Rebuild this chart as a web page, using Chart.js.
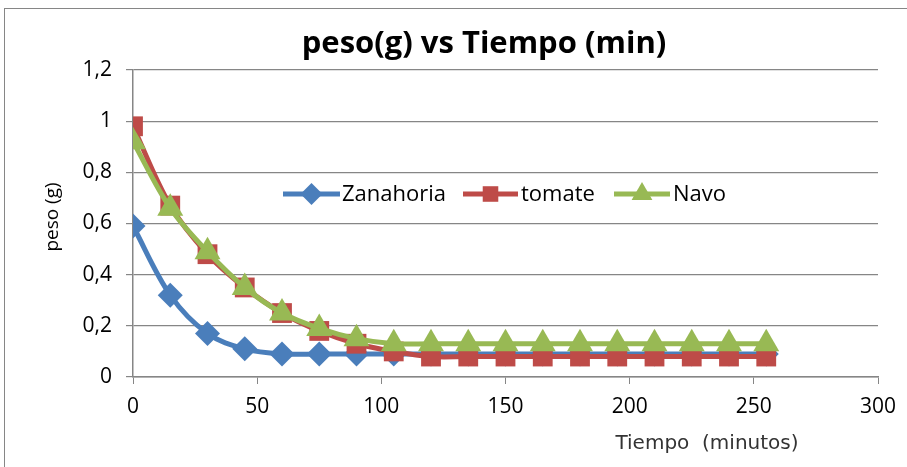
<!DOCTYPE html>
<html><head><meta charset="utf-8">
<script src="https://cdn.jsdelivr.net/npm/chart.js@4"></script>
<style>html,body{margin:0;padding:0;background:#fff}#wrap{width:907px;height:467px;position:relative}</style>
</head><body><div id="wrap"><canvas id="c" width="907" height="467"></canvas></div>
<script>
const times = [0,15,30,45,60,75,90,105,120,135,150,165,180,195,210,225,240,255];
const zanahoria = [0.59,0.32,0.17,0.11,0.09,0.09,0.09,0.09,0.09,0.09,0.09,0.09,0.09,0.09,0.09,0.09,0.09,0.09];
const tomate = [0.98,0.67,0.48,0.35,0.25,0.18,0.13,0.10,0.08,0.08,0.08,0.08,0.08,0.08,0.08,0.08,0.08,0.08];
const navo = [0.92,0.66,0.49,0.35,0.25,0.19,0.15,0.13,0.13,0.13,0.13,0.13,0.13,0.13,0.13,0.13,0.13,0.13];
const seriesNames = ['Zanahoria','tomate','Navo'];
const titleText = 'peso(g) vs Tiempo (min)';
const xTitle = 'Tiempo  (minutos)';
const yTitle = 'peso (g)';

const colors = ['#4A7EBB','#BE4B48','#98B954'];
const styles = ['rectRot','rect','triangle'];
const radii = [12.5,14,15];
const legendRadii = [11,11,12];
const allData = [zanahoria, tomate, navo];

const datasets = allData.map((arr,i)=>({
  label: seriesNames[i],
  data: times.map((t,j)=>({x:t,y:arr[j]})),
  borderColor: colors[i],
  backgroundColor: colors[i],
  borderWidth: 5,
  pointStyle: styles[i],
  pointRadius: radii[i],
  pointBorderWidth: 0,
  tension: 0.35,
  fill: false,
  order: 3 - i
}));

const overlay = {
  id:'overlay',
  beforeDraw(chart){
    const ctx = chart.ctx;
    ctx.save();
    ctx.strokeStyle = '#868686';
    ctx.lineWidth = 1;
    ctx.strokeRect(4.5, 8.5, 920, 480);
    ctx.restore();
  },
  afterDraw(chart){
    const ctx = chart.ctx;
    ctx.save();
    ctx.fillStyle = '#000';
    ctx.font = 'bold 31px "Open Sans"';
    ctx.textAlign = 'center';
    ctx.textBaseline = 'middle';
    ctx.fillText(titleText, 484, 44);
    // y title
    ctx.save();
    ctx.translate(53, 217);
    ctx.rotate(-Math.PI/2);
    ctx.font = '19px "Open Sans"';
    ctx.fillText(yTitle, 0, 0);
    ctx.restore();
    // x title
    ctx.font = '20px "DejaVu Sans"';
    ctx.fillStyle = '#333';
    ctx.fillText(xTitle, 707, 444);
    // legend
    const items = [{x0:283,x1:340,tx:342},{x0:463,x1:518,tx:521},{x0:614,x1:670,tx:673}];
    const ly = 194;
    items.forEach((it,i)=>{
      ctx.strokeStyle = colors[i];
      ctx.lineWidth = 5;
      ctx.beginPath(); ctx.moveTo(it.x0, ly); ctx.lineTo(it.x1, ly); ctx.stroke();
      ctx.fillStyle = colors[i];
      Chart.helpers.drawPoint(ctx, {pointStyle: styles[i], radius: legendRadii[i], borderWidth:0}, (it.x0+it.x1)/2, ly);
      ctx.fillStyle = '#000';
      ctx.font = '22px "Open Sans"';
      ctx.textAlign = 'left';
      ctx.fillText(seriesNames[i], it.tx, ly+1);
    });
    ctx.restore();
  }
};

new Chart(document.getElementById('c'), {
  type:'line',
  data:{datasets},
  options:{
    responsive:false,
    animation:false,
    layout:{padding:{top:70,right:29,bottom:0,left:0}},
    plugins:{legend:{display:false},title:{display:false},tooltip:{enabled:false}},
    scales:{
      x:{type:'linear',min:0,max:300,
        ticks:{stepSize:50,color:'#000',font:{family:'Open Sans',size:21},padding:10},
        grid:{drawOnChartArea:false,drawTicks:true,tickLength:7,color:'#868686'},
        border:{color:'#868686',width:1.5},
        afterFit(s){s.height=90;}
      },
      y:{min:0,max:1.2,
        ticks:{stepSize:0.2,color:'#000',font:{family:'Open Sans',size:21},padding:14,
          callback:v=>String(Math.round(v*10)/10).replace('.',',')},
        grid:{color:'#868686',lineWidth:1.2,drawTicks:true,tickLength:7},
        border:{color:'#868686',width:1.5},
        afterFit(s){s.width=133;}
      }
    }
  },
  plugins:[overlay]
});
</script></body></html>
